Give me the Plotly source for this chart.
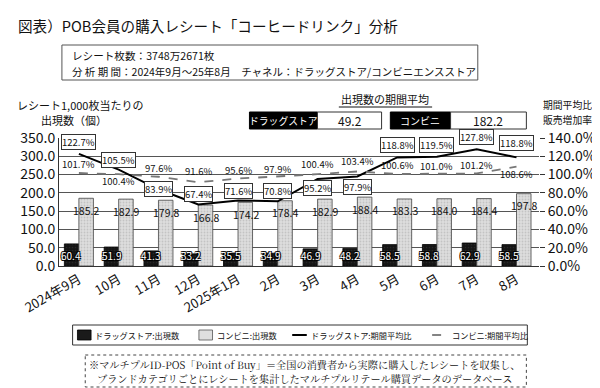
import plotly.graph_objects as go

# ---- data ----
months = ["2024年9月", "10月", "11月", "12月", "2025年1月", "2月", "3月", "4月", "5月", "6月", "7月", "8月"]
drug_count = [60.4, 51.9, 41.3, 33.2, 35.5, 34.9, 46.9, 48.2, 58.5, 58.8, 62.9, 58.5]
conv_count = [185.2, 182.9, 179.8, 166.8, 174.2, 178.4, 182.9, 188.4, 183.3, 184.0, 184.4, 197.8]
drug_ratio = [122.7, 105.5, 83.9, 67.4, 71.6, 70.8, 95.2, 97.9, 118.8, 119.5, 127.8, 118.8]
conv_ratio = [101.7, 100.4, 97.6, 91.6, 95.6, 97.9, 100.4, 103.4, 100.6, 101.0, 101.2, 108.6]
drug_avg = 49.2
conv_avg = 182.2
series_names = ["ドラッグストア:出現数", "コンビニ:出現数", "ドラッグストア:期間平均比", "コンビニ:期間平均比"]

# label offsets (pixels, + = up)
drug_lbl_shift = [12, 10, 0, 10, 10, 10, -9, -11, 12, 12, 12, 14]
conv_lbl_shift = [9, -7, 9, 11, 9, 7, 10, 10, 9, 8, 8, -7]

FONT = "Noto Sans CJK JP"
SERIF = "Noto Serif CJK JP, Noto Sans CJK JP"

W, H = 600, 388
L, R, T, B = 47, 541, 130, 258


def X(px):
    return (px - L) / (R - L)


def Y(py):
    return (B - py) / (B - T)


DRUG_BAR = dict(color="#141414", line=dict(color="#000", width=0.8),
                pattern=dict(shape=".", fgcolor="#3a3a3a", size=3, solidity=0.25))
CONV_BAR = dict(color="#dedede", line=dict(color="#444", width=0.8),
                pattern=dict(shape=".", fgcolor="#a8a8a8", size=3, solidity=0.3))

fig = go.Figure()
fig.add_trace(go.Bar(x=months, y=drug_count, name=series_names[0], marker=DRUG_BAR))
fig.add_trace(go.Bar(x=months, y=conv_count, name=series_names[1], marker=CONV_BAR))
fig.add_trace(go.Scatter(x=months, y=drug_ratio, yaxis="y2", name=series_names[2],
                         mode="lines", line=dict(color="#000", width=2)))
fig.add_trace(go.Scatter(x=months, y=conv_ratio, yaxis="y2", name=series_names[3],
                         mode="lines", line=dict(color="#777", width=1.8, dash="dash")))

ann = []
# bar labels
for m, v in zip(months, drug_count):
    ann.append(dict(x=m, y=30, xref="x", yref="y", text=f"{v:.1f}", showarrow=False,
                    xshift=-7.5, font=dict(family=FONT, size=10, color="#fff",
                                           shadow="-1px -1px 0 #000, 1px -1px 0 #000, -1px 1px 0 #000, 1px 1px 0 #000")))
for m, v in zip(months, conv_count):
    ann.append(dict(x=m, y=v, xref="x", yref="y", text=f"{v:.1f}", showarrow=False,
                    xshift=7.5, yshift=-12, font=dict(family=FONT, size=10.5, color="#111")))
# line labels
for m, v, s in zip(months, drug_ratio, drug_lbl_shift):
    ann.append(dict(x=m, y=v, xref="x", yref="y2", text=f"{v:.1f}%", showarrow=False,
                    yshift=s, bgcolor="#fff", bordercolor="#333", borderwidth=1, borderpad=0,
                    font=dict(family=FONT, size=9.5, color="#111")))
for m, v, s in zip(months, conv_ratio, conv_lbl_shift):
    ann.append(dict(x=m, y=v, xref="x", yref="y2", text=f"{v:.1f}%", showarrow=False,
                    yshift=s, font=dict(family=FONT, size=9.5, color="#111")))


def txt(px, py, text, size, color="#111", anchor="left", family=FONT, align="left"):
    ann.append(dict(x=X(px), y=Y(py), xref="paper", yref="paper", xanchor=anchor, yanchor="middle",
                    text=text, showarrow=False, align=align,
                    font=dict(family=family, size=size, color=color)))


# header texts
txt(3, 17, "図表）POB会員の購入レシート「コーヒードリンク」分析", 14.6)
txt(58, 47, "レシート枚数：3748万2671枚", 10.6)
txt(58, 63, "分 析 期 間：2024年9月～25年8月　チャネル：ドラッグストア/コンビニエンスストア", 10.5)
txt(69, 97, "レシート1,000枚当たりの", 11, anchor="center")
txt(62, 112, "出現数（個）", 11, anchor="center")
txt(383, 91, "出現数の期間平均", 11, anchor="center")
txt(278, 112.5, "ドラッグストア", 9.8, color="#fff", anchor="center")
txt(346, 112.5, f"{drug_avg:.1f}", 12, anchor="center")
txt(419, 112.5, "コンビニ", 10, color="#fff", anchor="center")
txt(489, 112.5, f"{conv_avg:.1f}", 12, anchor="center")
txt(570, 97, "期間平均比", 9.8, anchor="center")
txt(570, 112, "販売増加率", 9.8, anchor="center")
txt(300, 356, "※マルチプルID-POS「Point of Buy」＝全国の消費者から実際に購入したレシートを収集し、",
    10.2, anchor="center", family=SERIF)
txt(300, 370, "ブランドカテゴリごとにレシートを集計したマルチプルリテール購買データのデータベース",
    10.2, anchor="center", family=SERIF)

# custom legend texts
leg_text_x = [82, 208, 304, 449]
for px, name in zip(leg_text_x, series_names):
    txt(px, 327, name, 8.2)

shapes = [
    dict(type="rect", xref="paper", yref="paper", x0=X(50), x1=X(478), y0=Y(37), y1=Y(72),
         line=dict(color="#555", width=1)),
    dict(type="line", xref="paper", yref="paper", x0=X(335), x1=X(431), y0=Y(99), y1=Y(99),
         line=dict(color="#111", width=1)),
    dict(type="rect", xref="paper", yref="paper", x0=X(243), x1=X(313), y0=Y(104), y1=Y(121),
         fillcolor="#000", line=dict(color="#000", width=1)),
    dict(type="rect", xref="paper", yref="paper", x0=X(313), x1=X(379), y0=Y(104), y1=Y(121),
         fillcolor="#fff", line=dict(color="#333", width=1)),
    dict(type="rect", xref="paper", yref="paper", x0=X(388), x1=X(450), y0=Y(104), y1=Y(121),
         fillcolor="#000", line=dict(color="#000", width=1)),
    dict(type="rect", xref="paper", yref="paper", x0=X(450), x1=X(528), y0=Y(104), y1=Y(121),
         fillcolor="#fff", line=dict(color="#333", width=1)),
    # legend box + swatches
    dict(type="rect", xref="paper", yref="paper", x0=X(61), x1=X(529), y0=Y(317), y1=Y(337),
         line=dict(color="#333", width=1)),
    dict(type="rect", xref="paper", yref="paper", x0=X(66), x1=X(80), y0=Y(322), y1=Y(332),
         fillcolor="#1a1a1a", line=dict(color="#000", width=0.8)),
    dict(type="rect", xref="paper", yref="paper", x0=X(191), x1=X(205), y0=Y(322), y1=Y(332),
         fillcolor="#dedede", line=dict(color="#555", width=0.8)),
    dict(type="line", xref="paper", yref="paper", x0=X(287), x1=X(302), y0=Y(327), y1=Y(327),
         line=dict(color="#000", width=2)),
    dict(type="line", xref="paper", yref="paper", x0=X(431), x1=X(445), y0=Y(327), y1=Y(327),
         line=dict(color="#777", width=1.8, dash="dash")),
    # footnote box
    dict(type="rect", xref="paper", yref="paper", x0=X(74), x1=X(528), y0=Y(347), y1=Y(379),
         line=dict(color="#444", width=1, dash="dot")),
]

fig.update_layout(
    width=W, height=H,
    margin=dict(l=L, r=W - R, t=T, b=H - B, pad=0),
    paper_bgcolor="#fff", plot_bgcolor="#fff",
    barmode="group", bargap=0.27, bargroupgap=0,
    font=dict(family=FONT, color="#111"),
    showlegend=False,
    xaxis=dict(type="category", tickangle=-30, tickfont=dict(family=FONT, size=13),
               showline=True, linecolor="#333", linewidth=1, showgrid=False, ticks=""),
    yaxis=dict(range=[0, 350], dtick=50, tickformat=".1f", tickfont=dict(family=FONT, size=14),
               showgrid=True, gridcolor="#555", gridwidth=1, showline=True, linecolor="#333",
               zeroline=False, ticks=""),
    yaxis2=dict(range=[0, 140], dtick=20, tickformat=".1f", ticksuffix="%", overlaying="y",
                side="right", showgrid=False, zeroline=False, ticks="outside", ticklen=5,
                tickcolor="#333", tickfont=dict(family=FONT, size=14)),
    annotations=ann,
    shapes=shapes,
)

fig.write_html("out.html")
